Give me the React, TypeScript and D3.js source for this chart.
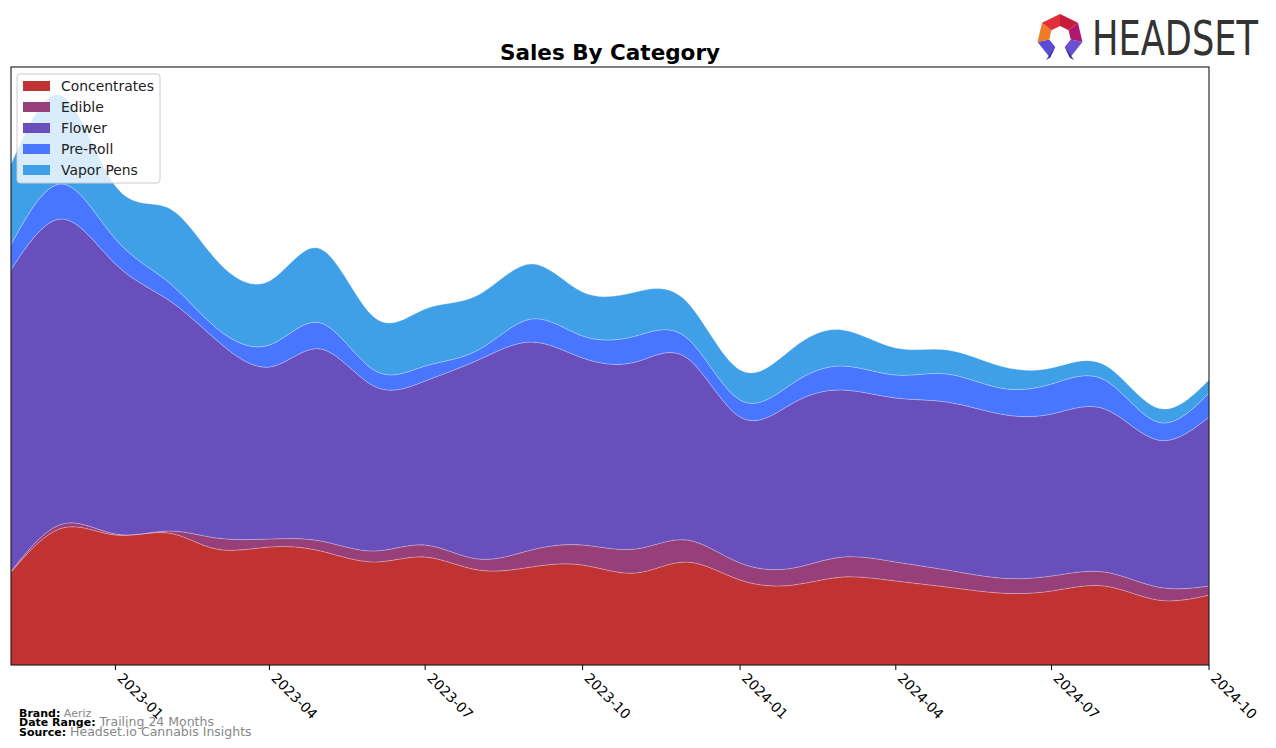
import React from "react";
import * as d3 from "d3";

const months = [
  "2022-11","2022-12","2023-01","2023-02","2023-03","2023-04","2023-05","2023-06",
  "2023-07","2023-08","2023-09","2023-10","2023-11","2023-12","2024-01","2024-02",
  "2024-03","2024-04","2024-05","2024-06","2024-07","2024-08","2024-09","2024-10",
];
const categories = ["Concentrates", "Edible", "Flower", "Pre-Roll", "Vapor Pens"];
const concentrates = [93,137,130,132,116,118,114,103,108,95,98,100,92,103,85,80,88,84,78,72,74,79,65,70];
const edible = [0.5,4,1,2,11,8,10,11,12,11,17,20,24,22,17,17,20,19,17,15,15,14,13,9];
const flower = [302,305,270,231,198,172,192,165,164,199,208,187,187,182,146,165,167,164,168,164,162,163,147,169];
const preRoll = [25,35,25,18,12,22,26,16,15,10,23,22,26,20,17,20,24,23,28,26,30,29,18,24];
const vaporPens = [80,88,53,74,68,64,74,53,57,55,55,44,44,36,30,35,36,27,24,22,16,15,14,13];
const tickLabels = ["2023-01","2023-04","2023-07","2023-10","2024-01","2024-04","2024-07","2024-10"];
const colors = ["#c13232", "#963f78", "#694fbc", "#4876ff", "#3fa0e8"];

const W = 1276, H = 748;
const L = 11, R = 1209, T = 67, B = 665;

export default function App() {
  const parse = d3.timeParse("%Y-%m");
  const series = [concentrates, edible, flower, preRoll, vaporPens];
  const rows = months.map((m, i) => {
    const o: any = { date: parse(m) };
    categories.forEach((c, k) => (o[c] = series[k][i]));
    return o;
  });
  const stack = d3.stack<any>().keys(categories)(rows);
  const x = d3.scaleTime().domain([parse(months[0])!, parse(months[months.length - 1])!]).range([L, R]);
  const y = d3.scaleLinear().domain([0, B - T]).range([B, T]);
  const area = d3.area<any>()
    .x((d) => x(d.data.date))
    .y0((d) => y(d[0]))
    .y1((d) => y(d[1]))
    .curve(d3.curveNatural);
  const ticks = tickLabels.map((t) => ({ t, x: x(parse(t)!) }));

  // logo heptagon
  const cx = 1060, cy = 37, Ro = 23, Ri = 11;
  const n = 7;
  const pt = (r: number, k: number) => {
    const a = -Math.PI / 2 + (k * 2 * Math.PI) / n;
    return [cx + r * Math.cos(a), cy + r * Math.sin(a)];
  };
  const segColors = ["#c81d3a", "#b0186e", "#6a4fd0", null, "#5a4cd0", "#f07a26", "#e0303a"];
  const segs = segColors.map((c, k) => {
    if (!c) return null;
    const a = pt(Ro, k), b = pt(Ro, k + 1), cc = pt(Ri, k + 1), dd = pt(Ri, k);
    return <polygon key={k} points={[a, b, cc, dd].map((p) => p.join(",")).join(" ")} fill={c} />;
  });

  return (
    <div style={{ position: "absolute", left: 0, top: 0 }}>
      <svg width={W} height={H} style={{ display: "block", background: "#fff" }}>
        <defs>
          <clipPath id="clip"><rect x={L} y={T} width={R - L} height={B - T} /></clipPath>
        </defs>
        <g clipPath="url(#clip)">
          {stack.map((s, k) => (
            <path key={k} d={area(s) || ""} fill={colors[k]} stroke="rgba(255,255,255,0.3)" strokeWidth={0.8} />
          ))}
        </g>
        <rect x={L} y={T} width={R - L} height={B - T} fill="none" stroke="#000" strokeWidth={1} />
        {ticks.map((t) => (
          <g key={t.t}>
            <line x1={t.x} x2={t.x} y1={B} y2={B + 5} stroke="#000" />
            <text x={t.x + 1} y={B + 14} transform={`rotate(45 ${t.x + 1} ${B + 14})`} fontFamily="DejaVu Sans" fontSize={13.9} fill="#000">{t.t}</text>
          </g>
        ))}
        <text x={610} y={60} textAnchor="middle" fontFamily="DejaVu Sans" fontWeight="bold" fontSize={21.5}>Sales By Category</text>
        <g>
          <rect x={17} y={74} width={143} height={109} rx={3} fill="rgba(255,255,255,0.8)" stroke="#cccccc" />
          {categories.map((c, k) => (
            <g key={c}>
              <rect x={23} y={81 + k * 21} width={27} height={10} fill={colors[k]} />
              <text x={61} y={91 + k * 21} fontFamily="DejaVu Sans" fontSize={13.9} fill="#222">{c}</text>
            </g>
          ))}
        </g>
        <g fontFamily="DejaVu Sans">
          <text x={19} y={717} fontSize={11}><tspan fontWeight="bold">Brand:</tspan><tspan fill="#888"> Aeriz</tspan></text>
          <text x={19} y={726} fontSize={11}><tspan fontWeight="bold">Date Range:</tspan><tspan fill="#888" fontSize={12.5}> Trailing 24 Months</tspan></text>
          <text x={19} y={736} fontSize={11}><tspan fontWeight="bold">Source:</tspan><tspan fill="#888" fontSize={12.5}> Headset.io Cannabis Insights</tspan></text>
        </g>
        <g>
          {segs}
          <polygon points={`${pt(Ri,4).join(",")} ${pt(Ro,4).join(",")} ${cx - 14},${cy + 23}`} fill="#3a2f8f" />
          <polygon points={`${pt(Ri,3).join(",")} ${pt(Ro,3).join(",")} ${cx + 14},${cy + 23}`} fill="#2d2a7a" />
          <text x={1092} y={55} fontFamily="DejaVu Sans" fontSize={48} fill="#333" textLength={166} lengthAdjust="spacingAndGlyphs">HEADSET</text>
        </g>
      </svg>
    </div>
  );
}
